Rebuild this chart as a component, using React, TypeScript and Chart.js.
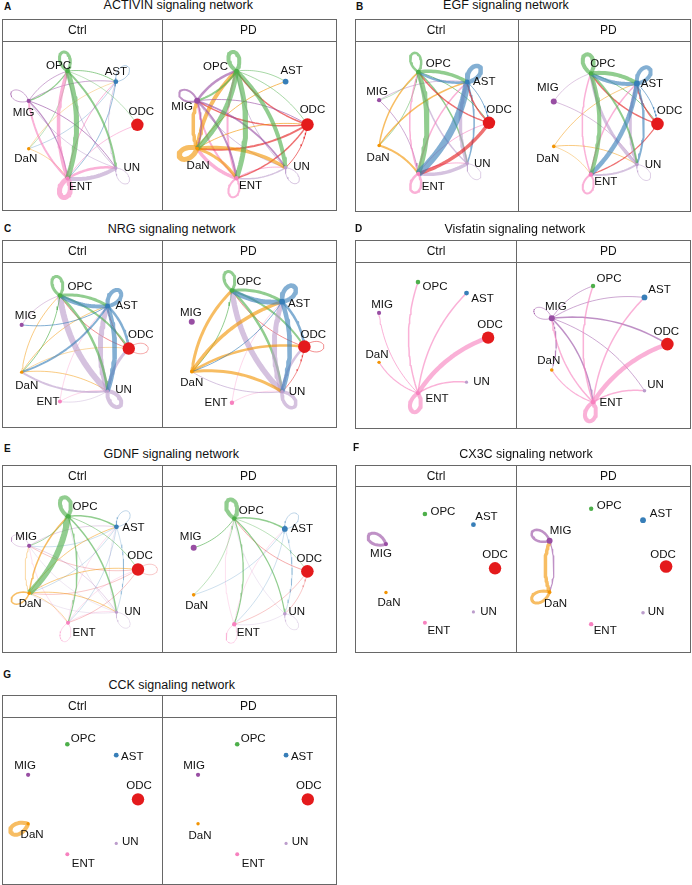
import React, { useEffect, useRef } from "react";
import { Chart, registerables } from "chart.js";

Chart.register(...registerables);

// ---------- data ----------
const cellTypes = ["ODC", "AST", "OPC", "MIG", "DaN", "ENT", "UN"];
const cellColors = ["#E41A1C", "#377EB8", "#4DAF4A", "#984EA3", "#F29403", "#F781BF", "#BC9DCC"];
const ctrlNodeSizes = [6.2, 2.4, 2.3, 2.1, 1.7, 2.0, 1.6];
const pdNodeSizes = [6.3, 2.9, 2.2, 3.0, 1.8, 2.2, 1.8];

type Edge = [number, number, number]; // source, target, weight

const activinCtrlEdges: Edge[] = [
  [2, 2, 3], [2, 5, 5], [5, 2, 3.5], [5, 5, 5], [6, 5, 4], [5, 6, 2.5], [5, 3, 2], [3, 5, 1.2],
  [2, 6, 2], [2, 3, 1.2], [2, 1, 1], [2, 0, 0.6], [3, 6, 1], [3, 1, 0.8], [3, 2, 0.8], [3, 3, 0.8],
  [1, 1, 0.6], [6, 6, 0.8], [4, 5, 0.6], [4, 1, 0.5], [1, 5, 0.8], [1, 4, 0.5], [5, 1, 1], [5, 0, 0.8],
  [6, 2, 1], [6, 3, 0.8], [6, 1, 0.8], [2, 4, 0.6],
];
const activinPdEdges: Edge[] = [
  [2, 2, 4], [2, 5, 5], [2, 4, 5], [2, 6, 4], [2, 3, 2], [2, 1, 0.8], [2, 0, 0.8],
  [3, 3, 2], [3, 2, 2.5], [3, 5, 2], [3, 6, 1.8], [3, 4, 1.5], [3, 0, 1],
  [4, 4, 5], [4, 2, 4], [4, 3, 3.5], [4, 6, 3.5], [4, 5, 3], [4, 1, 1], [4, 0, 1],
  [0, 2, 1.5], [0, 3, 1.5], [0, 4, 2], [0, 5, 1.5], [0, 6, 1],
  [5, 2, 2], [5, 4, 3.5], [5, 3, 2], [5, 5, 2], [5, 6, 1],
  [6, 6, 1], [6, 5, 1.5], [6, 3, 1], [6, 2, 1],
];
const egfCtrlEdges: Edge[] = [
  [2, 2, 2.5], [2, 1, 3.5], [1, 2, 2.5], [1, 1, 4.5], [1, 5, 7], [2, 5, 5], [0, 5, 3.5], [0, 2, 1.5],
  [0, 1, 1.5], [6, 5, 3.5], [6, 1, 3.5], [4, 5, 2], [4, 2, 1.5], [4, 1, 1.5], [5, 2, 1.5], [5, 1, 1.5],
  [5, 5, 2.5], [2, 6, 1.5], [2, 0, 1], [2, 4, 0.8], [2, 3, 0.6], [1, 6, 1.5], [1, 0, 1], [3, 5, 0.8],
  [3, 1, 0.6], [6, 6, 0.8], [6, 2, 1.5], [5, 0, 1], [5, 6, 1],
];
const egfPdEdges: Edge[] = [
  [2, 2, 4], [2, 1, 4], [1, 2, 4], [1, 1, 4], [2, 5, 4], [1, 5, 4.5], [2, 6, 2], [1, 6, 2],
  [6, 1, 3], [6, 2, 3], [0, 2, 1.5], [0, 5, 1.2], [0, 1, 1.5], [5, 1, 1.5], [5, 2, 1.5], [5, 5, 2],
  [4, 1, 0.8], [4, 6, 0.8], [4, 5, 0.6], [6, 5, 2], [3, 6, 0.6], [3, 2, 0.5], [6, 6, 0.8], [1, 0, 1], [2, 0, 1],
];
const nrgCtrlEdges: Edge[] = [
  [2, 2, 3], [2, 1, 3], [1, 2, 4], [1, 1, 4], [1, 6, 4.5], [1, 0, 2.5], [1, 4, 2], [1, 3, 1],
  [2, 6, 2.5], [2, 0, 2], [2, 4, 1], [6, 2, 6], [6, 1, 5], [6, 6, 4], [6, 0, 3], [6, 4, 2],
  [4, 2, 0.8], [4, 1, 0.8], [4, 6, 0.8], [4, 0, 0.6], [0, 1, 0.8], [0, 2, 0.8], [0, 0, 0.6],
  [5, 6, 0.5], [5, 1, 0.5], [3, 2, 0.5], [6, 5, 0.6],
];
const nrgPdEdges: Edge[] = [
  [2, 2, 3], [2, 1, 3], [1, 2, 5], [1, 1, 4.5], [1, 6, 4.5], [1, 0, 2.5], [1, 4, 1],
  [4, 2, 3], [4, 1, 3.5], [4, 0, 2.5], [4, 6, 3], [6, 2, 5.5], [6, 1, 5], [6, 6, 3.5], [6, 0, 2.5],
  [6, 4, 1], [2, 6, 2.5], [2, 0, 2], [2, 4, 1], [0, 0, 0.8], [0, 2, 0.8], [0, 6, 0.8], [5, 1, 0.5], [5, 6, 0.5],
];
const visfatinCtrlEdges: Edge[] = [
  [5, 0, 4.5], [5, 5, 4], [5, 2, 1.5], [5, 1, 1.5], [5, 3, 1], [5, 4, 1.2], [5, 6, 1.5],
];
const visfatinPdEdges: Edge[] = [
  [5, 0, 4.5], [5, 5, 4], [5, 2, 1.5], [5, 1, 1.5], [5, 3, 1.5], [5, 4, 1.2], [5, 6, 1.5],
  [3, 0, 1.5], [3, 5, 1.5], [3, 1, 0.8], [3, 2, 0.8], [3, 6, 0.8], [3, 4, 0.6], [3, 3, 0.8],
];
const gdnfCtrlEdges: Edge[] = [
  [2, 2, 4], [2, 4, 6], [2, 1, 1.5], [2, 6, 1.5], [2, 5, 1.2], [2, 3, 0.8], [2, 0, 0.8],
  [4, 2, 1.5], [4, 4, 1.5], [4, 1, 0.8], [4, 0, 0.8], [4, 6, 0.8], [4, 5, 0.6], [4, 3, 0.6],
  [1, 1, 0.5], [6, 6, 0.5], [5, 5, 0.5], [0, 0, 0.4], [3, 3, 0.4], [1, 5, 0.4], [1, 4, 0.4],
  [1, 3, 0.4], [6, 3, 0.4], [6, 4, 0.4], [6, 2, 0.4], [5, 1, 0.4], [5, 0, 0.4], [5, 3, 0.4],
  [3, 6, 0.4], [3, 1, 0.4], [0, 4, 0.4], [0, 5, 0.4], [0, 3, 0.4], [6, 1, 0.4], [1, 6, 0.4], [5, 6, 0.4],
];
const gdnfPdEdges: Edge[] = [
  [2, 2, 4], [2, 1, 1.5], [2, 5, 1.2], [2, 6, 1.2], [2, 3, 1], [2, 4, 0.6], [2, 0, 0.6], [0, 2, 0.6],
  [1, 1, 0.5], [6, 6, 0.5], [5, 5, 0.5], [1, 5, 0.4], [1, 4, 0.4], [6, 5, 0.4], [5, 1, 0.4],
  [0, 5, 0.4], [6, 2, 0.4], [5, 2, 0.4], [1, 6, 0.4], [0, 6, 0.4],
];
const cx3cCtrlEdges: Edge[] = [[3, 3, 3]];
const cx3cPdEdges: Edge[] = [[3, 3, 2.5], [4, 4, 3], [4, 3, 3.5], [3, 4, 1.2]];
const cckCtrlEdges: Edge[] = [[4, 4, 4]];
const cckPdEdges: Edge[] = [];

// label offsets (px) per node, order as cellTypes
const aCtrlLab = [[4, -13], [0, -10], [-9, -5], [-5, 12], [-3, 10], [13, 8], [16, 0]];
const aPdLab = [[5, -15], [6, -11], [-21, -4], [-15, 6], [1, 17], [14, 8], [16, -1]];
const bCtrlLab = [[10, -13], [17, 0], [20, -8], [-2, -8], [-1, 12], [15, 13], [15, 0]];
const bPdLab = [[12, -13], [15, 0], [12, -10], [-6, -14], [-6, 12], [15, 7], [16, 0]];
const cCtrlLab = [[12, -14], [19, 0], [20, -9], [4, -9], [5, 14], [-12, 0], [16, -1]];
const cPdLab = [[9, -12], [17, 2], [17, -9], [-1, -9], [0, 11], [-16, 0], [15, 0]];
const dCtrlLab = [[2, -13], [16, 6], [17, 5], [3, -8], [-2, -8], [19, 6], [15, 0]];
const dPdLab = [[-1, -12], [15, -8], [16, -7], [4, -11], [-3, -9], [18, 1], [11, -6]];
const eCtrlLab = [[2, -14], [17, 1], [17, -9], [-3, -9], [1, 11], [16, 10], [16, 0]];
const ePdLab = [[2, -13], [17, 0], [17, -8], [-3, -11], [3, 11], [14, 9], [12, -2]];
const fCtrlLab = [[0, -13], [13, -8], [18, -2], [-5, 10], [3, 10], [14, 8], [15, 0]];
const fPdLab = [[-3, -12], [18, -6], [18, -3], [11, -10], [6, 12], [14, 7], [13, -1]];
const gCtrlLab = [[1, -14], [16, 2], [16, -5], [-3, -9], [4, 11], [16, 9], [14, -2]];
const gPdLab = [[1, -14], [16, 2], [16, -5], [-4, -9], [2, 12], [16, 9], [14, -2]];

// ---------- layout ----------
type Sub = { edges: Edge[]; sizes: number[]; c: number[]; lab: number[][] };
type Panel = {
  letter: string; title: string; box: number[]; letterPos: number[]; titlePos: number[];
  headX: number[]; subs: Sub[];
};

const panels: Panel[] = [
  { letter: "A", title: "ACTIVIN signaling network", box: [2, 336, 19, 41, 210, 162], letterPos: [4, 10.7], titlePos: [178.3, 10], headX: [77.3, 248.3],
    subs: [
      { edges: activinCtrlEdges, sizes: ctrlNodeSizes, c: [80, 124.7, 62, 59.5], lab: aCtrlLab },
      { edges: activinPdEdges, sizes: pdNodeSizes, c: [249.4, 124.5, 62.6, 59.5], lab: aPdLab },
    ] },
  { letter: "B", title: "EGF signaling network", box: [355, 690, 19, 41, 211, 518], letterPos: [356, 10.7], titlePos: [506, 10], headX: [436, 608.3],
    subs: [
      { edges: egfCtrlEdges, sizes: ctrlNodeSizes, c: [430.7, 122.5, 62.6, 56.3], lab: bCtrlLab },
      { edges: egfPdEdges, sizes: pdNodeSizes, c: [602.8, 123.7, 58.9, 56], lab: bPdLab },
    ] },
  { letter: "C", title: "NRG signaling network", box: [2, 336, 240, 262, 427, 162], letterPos: [4, 232.7], titlePos: [171.7, 233.3], headX: [77.3, 248.3],
    subs: [
      { edges: nrgCtrlEdges, sizes: ctrlNodeSizes, c: [71.6, 348.8, 61.1, 58.9], lab: cCtrlLab },
      { edges: nrgPdEdges, sizes: pdNodeSizes, c: [244.8, 346.8, 63.9, 62.4], lab: cPdLab },
    ] },
  { letter: "D", title: "Visfatin signaling network", box: [355, 690, 240, 262, 428, 516], letterPos: [355, 232.3], titlePos: [514.8, 233.3], headX: [436, 608.3],
    subs: [
      { edges: visfatinCtrlEdges, sizes: ctrlNodeSizes, c: [430.3, 337, 62.2, 61.6], lab: dCtrlLab },
      { edges: visfatinPdEdges, sizes: pdNodeSizes, c: [606.8, 344, 65.6, 64.6], lab: dPdLab },
    ] },
  { letter: "E", title: "GDNF signaling network", box: [2, 336, 465, 486, 652, 162], letterPos: [4, 452], titlePos: [171.3, 458.7], headX: [77.3, 248.3],
    subs: [
      { edges: gdnfCtrlEdges, sizes: ctrlNodeSizes, c: [80.6, 569.5, 62.1, 59], lab: eCtrlLab },
      { edges: gdnfPdEdges, sizes: pdNodeSizes, c: [247.4, 571.5, 64.5, 58.7], lab: ePdLab },
    ] },
  { letter: "F", title: "CX3C signaling network", box: [355, 690, 465, 486, 652, 516], letterPos: [353, 451.3], titlePos: [526, 458.7], headX: [436, 608.3],
    subs: [
      { edges: cx3cCtrlEdges, sizes: ctrlNodeSizes, c: [437.8, 568.2, 62.2, 60.3], lab: fCtrlLab },
      { edges: cx3cPdEdges, sizes: pdNodeSizes, c: [604.9, 566.2, 66.1, 64.1], lab: fPdLab },
    ] },
  { letter: "G", title: "CCK signaling network", box: [2, 336, 695, 717, 884, 162], letterPos: [3.3, 678.7], titlePos: [171.7, 689.3], headX: [77.3, 248.3],
    subs: [
      { edges: cckCtrlEdges, sizes: ctrlNodeSizes, c: [80, 799.2, 62.7, 61], lab: gCtrlLab },
      { edges: cckPdEdges, sizes: ctrlNodeSizes, c: [250.1, 799.2, 62.2, 61], lab: gPdLab },
    ] },
];

const FONT = '"Liberation Sans", Arial, Helvetica, sans-serif';
const BORDER = "#676767";

function hexToRgba(hex: string, a: number) {
  const n = parseInt(hex.slice(1), 16);
  return `rgba(${(n >> 16) & 255},${(n >> 8) & 255},${n & 255},${a})`;
}

const nAngles = cellTypes.map((_, i) => (2 * Math.PI * i) / cellTypes.length);
const nodeX = nAngles.map((a) => Math.cos(a));
const nodeY = nAngles.map((a) => Math.sin(a));

function curvePoints(s: number, t: number, rx: number, ry: number) {
  const x0 = nodeX[s] * rx, y0 = nodeY[s] * ry;
  const x2 = nodeX[t] * rx, y2 = nodeY[t] * ry;
  const dx = x2 - x0, dy = y2 - y0;
  const k = 0.17;
  const cxp = (x0 + x2) / 2 - dy * k;
  const cyp = (y0 + y2) / 2 + dx * k;
  const pts: { x: number; y: number }[] = [];
  const N = 24;
  for (let i = 0; i <= N; i++) {
    const u = i / N;
    const px = (1 - u) * (1 - u) * x0 + 2 * (1 - u) * u * cxp + u * u * x2;
    const py = (1 - u) * (1 - u) * y0 + 2 * (1 - u) * u * cyp + u * u * y2;
    pts.push({ x: px / rx, y: py / ry });
  }
  return pts;
}

function loopPoints(s: number, rx: number, ry: number) {
  const th = nAngles[s];
  const L = 21;
  const pts: { x: number; y: number }[] = [];
  const N = 30;
  for (let i = 0; i <= N; i++) {
    const phi = -Math.PI / 4 + (Math.PI / 2) * (i / N);
    const r = L * Math.cos(2 * phi);
    const lx = r * Math.cos(phi), ly = r * Math.sin(phi);
    const ux = lx * Math.cos(th) - ly * Math.sin(th);
    const uy = lx * Math.sin(th) + ly * Math.cos(th);
    pts.push({ x: nodeX[s] + ux / rx, y: nodeY[s] + uy / ry });
  }
  return pts;
}

const labelPlugin = {
  id: "nodeLabels",
  afterDatasetsDraw(chart: any, _args: any, opts: any) {
    const { ctx } = chart;
    const xs = chart.scales.x, ys = chart.scales.y;
    ctx.save();
    ctx.font = `11.5px ${FONT}`;
    ctx.fillStyle = "#111";
    ctx.textAlign = "center";
    ctx.textBaseline = "middle";
    (opts.offsets || []).forEach((o: number[], i: number) => {
      ctx.fillText(cellTypes[i], xs.getPixelForValue(nodeX[i]) + o[0], ys.getPixelForValue(nodeY[i]) + o[1]);
    });
    ctx.restore();
  },
};

function NetCircle({ sub, left, top, width, height }: { sub: Sub; left: number; top: number; width: number; height: number }) {
  const ref = useRef<HTMLCanvasElement>(null);
  useEffect(() => {
    const canvas = ref.current;
    if (!canvas) return;
    const [cx, cy, rx, ry] = sub.c;
    const lcx = cx - left, lcy = cy - top;
    const datasets: any[] = [];
    datasets.push({
      type: "scatter",
      data: nodeX.map((x, i) => ({ x, y: nodeY[i] })),
      pointRadius: sub.sizes,
      pointHoverRadius: sub.sizes,
      backgroundColor: cellColors,
      borderWidth: 0,
      order: 0,
      clip: false,
    });
    sub.edges.forEach(([s, t, w]) => {
      datasets.push({
        type: "scatter",
        showLine: true,
        data: s === t ? loopPoints(s, rx, ry) : curvePoints(s, t, rx, ry),
        borderColor: hexToRgba(cellColors[s], 0.62),
        backgroundColor: "rgba(0,0,0,0)",
        borderWidth: w,
        pointRadius: 0,
        pointHoverRadius: 0,
        tension: 0,
        fill: false,
        order: 1,
        clip: false,
        borderJoinStyle: "round",
      });
    });
    const chart = new Chart(canvas, {
      type: "scatter",
      data: { datasets },
      options: {
        animation: false,
        responsive: false,
        maintainAspectRatio: false,
        events: [],
        layout: { padding: 0 },
        scales: {
          x: { type: "linear", display: false, min: -lcx / rx, max: (width - lcx) / rx },
          y: { type: "linear", display: false, min: -(height - lcy) / ry, max: lcy / ry },
        },
        plugins: {
          legend: { display: false },
          tooltip: { enabled: false },
          nodeLabels: { offsets: sub.lab },
        } as any,
      },
      plugins: [labelPlugin],
    } as any);
    return () => chart.destroy();
  }, []);
  return (
    <canvas
      ref={ref}
      width={width}
      height={height}
      style={{ position: "absolute", left, top, width, height }}
    />
  );
}

function Txt({ x, base, size, bold, center, children }: any) {
  const style: any = {
    position: "absolute",
    top: base - 0.8465 * size,
    left: x,
    fontSize: size,
    lineHeight: size + "px",
    fontFamily: FONT,
    fontWeight: bold ? 700 : 400,
    whiteSpace: "nowrap",
    color: "#111",
  };
  if (center) style.transform = "translateX(-50%)";
  return <div style={style}>{children}</div>;
}

function PanelView({ p }: { p: Panel }) {
  const [L, R, T, H, B, D] = p.box;
  return (
    <>
      <Txt x={p.letterPos[0]} base={p.letterPos[1]} size={10} bold>{p.letter}</Txt>
      <Txt x={p.titlePos[0]} base={p.titlePos[1]} size={12.5} center>{p.title}</Txt>
      <NetCircle sub={p.subs[0]} left={L + 1} top={H + 1} width={D - L - 1} height={B - H - 1} />
      <NetCircle sub={p.subs[1]} left={D + 1} top={H + 1} width={R - D - 1} height={B - H - 1} />
      <div style={{ position: "absolute", left: L, top: T, width: R - L + 1, height: B - T + 1, border: `1px solid ${BORDER}`, boxSizing: "border-box", pointerEvents: "none" }} />
      <div style={{ position: "absolute", left: L, top: H, width: R - L + 1, height: 1, background: BORDER }} />
      <div style={{ position: "absolute", left: D, top: T, width: 1, height: B - T + 1, background: BORDER }} />
      <Txt x={p.headX[0]} base={T + 15.3} size={12} center>Ctrl</Txt>
      <Txt x={p.headX[1]} base={T + 15.3} size={12} center>PD</Txt>
    </>
  );
}

export default function App() {
  return (
    <div style={{ position: "absolute", left: 0, top: 0, width: 692, height: 885, background: "#fff", overflow: "hidden" }}>
      {panels.map((p) => (
        <PanelView key={p.letter} p={p} />
      ))}
    </div>
  );
}
